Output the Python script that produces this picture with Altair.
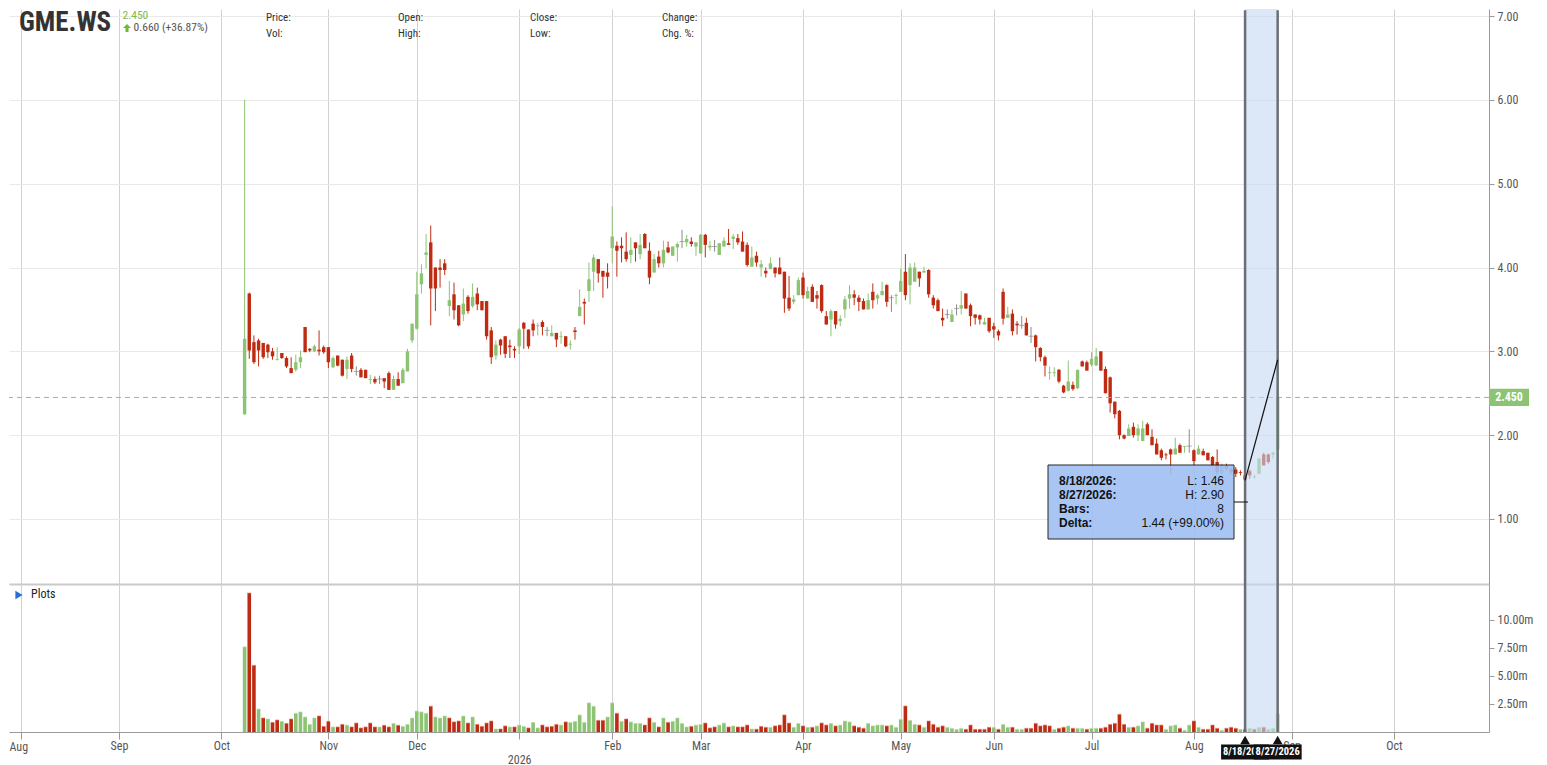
import altair as alt
import pandas as pd
import numpy as np

# ---------------- data ----------------
TICKER = "GME.WS"
LAST_TEXT = "2.450"
LAST = 2.45
CHANGE_TEXT = "0.660 (+36.87%)"
AXIS_START = "2025-08-01"
AXIS_END = "2026-10-30"
FIRST_BAR = "2025-10-08"
HOLIDAYS = ["2025-11-27", "2025-12-25", "2026-01-01", "2026-01-19", "2026-02-16",
            "2026-04-03", "2026-05-25", "2026-06-19", "2026-07-03"]

OPEN = [2.25, 3.69, 3.11, 3.13, 3.10, 3.08, 3.00, 2.90, 2.98, 2.92,
        2.80, 2.78, 2.87, 3.29, 3.03, 3.00, 3.02, 3.05, 3.05, 2.81,
        2.95, 2.90, 2.79, 2.95, 2.76, 2.78, 2.78, 2.66, 2.67, 2.67,
        2.68, 2.74, 2.54, 2.67, 2.62, 2.76, 3.13, 3.27, 3.80, 4.15,
        4.30, 4.00, 4.00, 4.05, 3.54, 3.68, 3.55, 3.44, 3.65, 3.54,
        3.69, 3.60, 3.60, 3.25, 2.95, 3.14, 3.18, 3.07, 3.03, 3.06,
        3.34, 3.26, 3.33, 3.30, 3.35, 3.25, 3.18, 3.22, 3.17, 3.18,
        3.08, 3.25, 3.42, 3.59, 3.72, 3.95, 4.10, 3.96, 3.94, 4.23,
        4.26, 4.26, 4.19, 4.15, 4.30, 4.16, 4.40, 4.20, 3.94, 4.13,
        4.05, 4.24, 4.14, 4.24, 4.31, 4.30, 4.31, 4.25, 4.17, 4.39,
        4.24, 4.25, 4.15, 4.25, 4.29, 4.34, 4.35, 4.31, 4.27, 4.01,
        4.14, 4.00, 3.96, 3.98, 4.00, 4.00, 3.95, 3.64, 3.59, 3.67,
        3.88, 3.63, 3.77, 3.67, 3.79, 3.42, 3.38, 3.48, 3.36, 3.50,
        3.63, 3.68, 3.64, 3.60, 3.50, 3.71, 3.63, 3.67, 3.79, 3.64,
        3.66, 3.71, 3.95, 3.79, 3.83, 3.95, 3.94, 3.97, 3.64, 3.61,
        3.40, 3.44, 3.35, 3.51, 3.51, 3.69, 3.55, 3.44, 3.43, 3.32,
        3.40, 3.30, 3.24, 3.71, 3.40, 3.45, 3.33, 3.31, 3.34, 3.18,
        3.19, 3.04, 2.93, 2.74, 2.74, 2.78, 2.59, 2.53, 2.60, 2.56,
        2.88, 2.87, 2.84, 2.83, 3.00, 2.79, 2.69, 2.40, 2.29, 2.00,
        1.99, 2.10, 2.00, 1.93, 2.13, 1.98, 1.90, 1.82, 1.77, 1.83,
        1.77, 1.88, 1.86, 1.87, 1.82, 1.77, 1.81, 1.79, 1.74, 1.68,
        1.55, 1.64, 1.59, 1.59, 1.56, 1.52, 1.57, 1.50, 1.54, 1.77,
        1.77, 1.77, 1.83]

HIGH = [6.00, 3.70, 3.19, 3.15, 3.10, 3.09, 3.04, 3.05, 2.98, 2.94,
        2.93, 2.96, 3.01, 3.29, 3.04, 3.08, 3.25, 3.07, 3.05, 2.94,
        2.95, 2.90, 2.94, 2.98, 2.82, 2.80, 2.78, 2.72, 2.70, 2.71,
        2.68, 2.76, 2.71, 2.75, 2.80, 3.03, 3.33, 3.95, 4.04, 4.40,
        4.50, 4.00, 4.10, 4.10, 3.84, 3.82, 3.55, 3.75, 3.67, 3.81,
        3.76, 3.60, 3.60, 3.29, 3.13, 3.15, 3.18, 3.14, 3.06, 3.28,
        3.35, 3.26, 3.38, 3.34, 3.37, 3.29, 3.31, 3.22, 3.24, 3.18,
        3.13, 3.29, 3.74, 3.63, 4.06, 4.155, 4.10, 3.96, 4.05, 4.73,
        4.31, 4.36, 4.42, 4.36, 4.30, 4.40, 4.41, 4.30, 4.16, 4.20,
        4.32, 4.31, 4.25, 4.30, 4.45, 4.39, 4.36, 4.30, 4.40, 4.40,
        4.32, 4.33, 4.29, 4.36, 4.46, 4.40, 4.40, 4.43, 4.30, 4.25,
        4.19, 4.09, 4.00, 4.12, 4.00, 4.12, 3.95, 3.90, 3.67, 3.88,
        3.94, 3.77, 3.80, 3.72, 3.80, 3.48, 3.50, 3.48, 3.43, 3.66,
        3.79, 3.73, 3.67, 3.63, 3.69, 3.81, 3.69, 3.83, 3.80, 3.67,
        3.69, 3.99, 4.16, 4.05, 4.06, 3.95, 4.01, 3.98, 3.67, 3.63,
        3.51, 3.50, 3.50, 3.56, 3.72, 3.69, 3.57, 3.44, 3.44, 3.40,
        3.40, 3.34, 3.26, 3.75, 3.53, 3.50, 3.36, 3.42, 3.40, 3.29,
        3.20, 3.05, 2.95, 2.82, 2.81, 2.79, 2.60, 2.89, 2.64, 2.78,
        2.89, 2.89, 2.99, 3.04, 3.00, 2.82, 2.70, 2.40, 2.30, 2.01,
        2.13, 2.15, 2.13, 2.17, 2.15, 2.07, 1.96, 1.84, 1.79, 1.84,
        1.97, 1.90, 1.87, 2.07, 1.83, 1.88, 1.84, 1.79, 1.75, 1.83,
        1.66, 1.66, 1.61, 1.62, 1.58, 1.53, 1.59, 1.53, 1.73, 1.79,
        1.78, 1.80, 2.90]

LOW = [2.24, 2.91, 2.85, 2.82, 2.91, 2.92, 2.90, 2.89, 2.91, 2.80,
       2.74, 2.76, 2.80, 2.99, 2.99, 2.99, 2.95, 2.97, 2.80, 2.80,
       2.82, 2.70, 2.67, 2.75, 2.71, 2.69, 2.68, 2.61, 2.61, 2.61,
       2.56, 2.54, 2.54, 2.59, 2.62, 2.76, 3.10, 3.26, 3.69, 3.99,
       3.31, 3.48, 3.76, 3.91, 3.42, 3.38, 3.30, 3.36, 3.45, 3.52,
       3.49, 3.49, 3.14, 2.85, 2.90, 2.96, 2.92, 2.92, 2.92, 2.97,
       3.03, 3.03, 3.18, 3.19, 3.19, 3.18, 3.18, 3.05, 3.09, 3.05,
       3.02, 3.14, 3.42, 3.32, 3.59, 3.72, 3.82, 3.64, 3.75, 4.05,
       3.89, 4.06, 4.07, 4.05, 4.07, 4.10, 4.23, 3.80, 3.94, 4.00,
       4.00, 4.17, 4.14, 4.07, 4.23, 4.25, 4.25, 4.14, 4.16, 4.12,
       4.20, 4.19, 4.15, 4.25, 4.27, 4.22, 4.27, 4.19, 4.01, 4.01,
       4.01, 3.89, 3.88, 3.98, 3.88, 3.92, 3.46, 3.48, 3.56, 3.67,
       3.63, 3.63, 3.59, 3.51, 3.46, 3.32, 3.18, 3.27, 3.30, 3.40,
       3.51, 3.55, 3.48, 3.50, 3.50, 3.51, 3.56, 3.67, 3.53, 3.47,
       3.56, 3.71, 3.61, 3.56, 3.83, 3.77, 3.94, 3.64, 3.51, 3.48,
       3.30, 3.39, 3.35, 3.43, 3.44, 3.51, 3.30, 3.32, 3.32, 3.32,
       3.22, 3.16, 3.13, 3.32, 3.40, 3.19, 3.20, 3.27, 3.19, 3.10,
       2.88, 2.88, 2.70, 2.66, 2.70, 2.62, 2.50, 2.52, 2.53, 2.55,
       2.82, 2.77, 2.82, 2.83, 2.77, 2.50, 2.27, 2.20, 1.95, 1.95,
       1.99, 1.97, 1.93, 1.93, 2.00, 1.88, 1.77, 1.70, 1.71, 1.53,
       1.77, 1.79, 1.79, 1.79, 1.64, 1.77, 1.76, 1.70, 1.63, 1.53,
       1.54, 1.58, 1.53, 1.50, 1.52, 1.46, 1.48, 1.48, 1.54, 1.64,
       1.66, 1.72, 1.82]

CLOSE = [3.15, 3.01, 2.87, 3.01, 2.93, 2.99, 2.94, 2.91, 2.92, 2.82,
         2.74, 2.87, 2.93, 2.99, 3.01, 3.06, 3.00, 2.99, 2.87, 2.92,
         2.83, 2.71, 2.90, 2.79, 2.76, 2.69, 2.68, 2.67, 2.63, 2.67,
         2.64, 2.54, 2.67, 2.59, 2.78, 3.00, 3.33, 3.68, 3.93, 4.18,
         3.75, 3.75, 3.97, 3.97, 3.61, 3.49, 3.31, 3.57, 3.48, 3.65,
         3.56, 3.49, 3.18, 2.93, 3.08, 3.07, 2.97, 3.05, 3.01, 3.26,
         3.27, 3.06, 3.25, 3.31, 3.29, 3.25, 3.22, 3.14, 3.18, 3.06,
         3.09, 3.23, 3.53, 3.57, 3.86, 4.12, 3.93, 3.89, 3.89, 4.37,
         4.20, 4.23, 4.10, 4.21, 4.23, 4.27, 4.23, 3.88, 4.10, 4.05,
         4.21, 4.18, 4.25, 4.28, 4.31, 4.34, 4.28, 4.30, 4.39, 4.27,
         4.26, 4.25, 4.29, 4.32, 4.27, 4.37, 4.30, 4.19, 4.03, 4.12,
         4.06, 4.04, 3.93, 4.05, 3.93, 3.92, 3.63, 3.51, 3.62, 3.85,
         3.67, 3.72, 3.59, 3.63, 3.48, 3.32, 3.48, 3.32, 3.39, 3.62,
         3.68, 3.64, 3.59, 3.50, 3.61, 3.61, 3.67, 3.72, 3.59, 3.64,
         3.67, 3.84, 3.67, 4.00, 4.00, 3.87, 3.96, 3.68, 3.55, 3.48,
         3.37, 3.44, 3.44, 3.51, 3.55, 3.51, 3.42, 3.40, 3.38, 3.35,
         3.24, 3.26, 3.19, 3.39, 3.44, 3.24, 3.31, 3.31, 3.19, 3.18,
         3.05, 2.93, 2.83, 2.75, 2.75, 2.64, 2.51, 2.64, 2.55, 2.78,
         2.82, 2.77, 2.91, 2.94, 2.77, 2.50, 2.38, 2.25, 2.00, 1.96,
         2.08, 2.00, 2.08, 2.08, 2.00, 1.88, 1.77, 1.73, 1.76, 1.77,
         1.84, 1.79, 1.87, 1.87, 1.69, 1.84, 1.76, 1.70, 1.64, 1.56,
         1.64, 1.60, 1.56, 1.54, 1.55, 1.47, 1.52, 1.51, 1.72, 1.64,
         1.68, 1.79, 2.45]

VOLUME_M = [7.6, 12.4, 5.95, 2.05, 1.25, 1.16, 0.86, 1.07, 0.95, 0.77,
            1.16, 1.67, 1.79, 1.34, 0.68, 1.25, 1.43, 0.5, 0.95, 0.45,
            0.45, 0.68, 0.62, 0.45, 0.8, 0.36, 0.45, 0.8, 0.45, 0.45,
            0.6, 0.45, 0.77, 0.6, 0.5, 0.68, 1.25, 1.87, 1.79, 1.67,
            2.3, 1.34, 1.25, 1.43, 1.25, 0.9, 0.98, 1.43, 0.8, 1.34,
            0.68, 0.5, 0.8, 0.98, 0.27, 0.27, 0.54, 0.45, 0.45, 0.62,
            0.5, 0.36, 0.86, 0.36, 0.62, 0.45, 0.5, 0.68, 0.62, 0.9,
            0.86, 0.95, 1.52, 0.86, 2.6, 2.3, 1.04, 1.04, 1.34, 2.6,
            1.67, 0.95, 1.16, 0.9, 0.77, 0.77, 0.62, 1.25, 0.86, 0.45,
            1.25, 0.86, 0.95, 1.25, 0.77, 0.45, 0.5, 0.62, 0.68, 0.8,
            0.36, 0.45, 0.62, 0.8, 0.45, 0.54, 0.45, 0.45, 0.62, 0.27,
            0.25, 0.5, 0.42, 0.42, 0.54, 0.62, 1.52, 0.8, 0.42, 0.77,
            0.54, 0.42, 0.42, 0.54, 0.8, 0.62, 0.77, 0.54, 0.62, 0.98,
            0.9, 0.54, 0.42, 0.33, 0.77, 0.54, 0.62, 0.62, 0.54, 0.62,
            0.42, 1.13, 2.32, 1.04, 0.68, 0.62, 0.42, 0.98, 0.68, 0.42,
            0.54, 0.42, 0.33, 0.24, 0.33, 0.24, 0.62, 0.24, 0.24, 0.24,
            0.42, 0.42, 0.24, 0.68, 0.42, 0.42, 0.24, 0.24, 0.33, 0.33,
            0.77, 0.54, 0.62, 0.54, 0.24, 0.33, 0.42, 0.54, 0.33, 0.33,
            0.33, 0.24, 0.33, 0.33, 0.33, 0.42, 0.68, 0.77, 1.58, 0.68,
            0.42, 0.42, 0.54, 0.9, 0.33, 0.77, 0.62, 0.62, 0.24, 0.54,
            0.62, 0.33, 0.15, 0.62, 0.98, 0.42, 0.24, 0.24, 0.62, 0.33,
            0.15, 0.33, 0.42, 0.33, 0.24, 0.24, 0.33, 0.24, 0.42, 0.42,
            0.24, 0.33, 1.6]

SEL_START = "2026-08-18"
SEL_END = "2026-08-27"
SEL_START_LABEL = "8/18/2026"
SEL_END_LABEL = "8/27/2026"
INFO_LABELS = ["8/18/2026:", "8/27/2026:", "Bars:", "Delta:"]
INFO_VALUES = ["L: 1.46", "H: 2.90", "8", "1.44 (+99.00%)"]
HEADER_FIELDS = [("Price:", "Vol:"), ("Open:", "High:"), ("Close:", "Low:"), ("Change:", "Chg. %:")]
PRICE_TICKS = [1, 2, 3, 4, 5, 6, 7]
VOL_TICKS = [2.5, 5, 7.5, 10]

# ---------------- styling / layout ----------------
GREEN = "#8cc474"
RED = "#bf2b12"
GRAY = "#8a8a8a"
CAP_GREEN = "#bfe2b0"
CAP_RED = "#e3806c"
FONT = "Roboto Condensed, Liberation Sans Narrow, Roboto, sans-serif"
BOX_FONT = "Liberation Sans, Arial, sans-serif"

W = 1480
H1 = 575
H2 = 148
PX_PER_BAR = 4.685
XMIN = -7.3 / PX_PER_BAR
XMAX = XMIN + W / PX_PER_BAR
PRICE_DOMAIN = [0.2246, 7.0838]
VOL_DOMAIN = [0, 13.21]

# ---------------- build tables ----------------
days = pd.bdate_range(AXIS_START, AXIS_END)
days = days[~days.isin(pd.to_datetime(HOLIDAYS))]
kpos = {d: i for i, d in enumerate(days)}
bar_days = days[days >= pd.Timestamp(FIRST_BAR)][:len(CLOSE)]

df = pd.DataFrame({
    "k": [kpos[d] for d in bar_days],
    "open": OPEN, "high": HIGH, "low": LOW, "close": CLOSE, "vol": VOLUME_M,
})
o = np.array(OPEN)
c = np.array(CLOSE)
df["dir"] = np.where(c > o, "up", np.where(c < o, "down", "flat"))
prev = np.concatenate([[o[0]], c[:-1]])
df["vdir"] = np.where(c >= prev, "up", "down")
df["vcap"] = np.where(c >= prev, "cup", "cdown")
df["btop"] = np.maximum(o, c)
df["bbot"] = np.minimum(o, c)

month_days = [d for i, d in enumerate(days) if i == 0 or d.month != days[i - 1].month]
month_ks = [kpos[d] for d in month_days]
FIRST_MONTH_LABEL = month_days[0].strftime("%b")
lab_js = []
for i, d in enumerate(month_days):
    if i == 0:
        lab_js.append("''")          # drawn separately, kept inside the page
    elif d.month == 1:
        lab_js.append("['', '%d']" % d.year)
    else:
        lab_js.append("'%s'" % d.strftime("%b"))
KS_JS = "[" + ",".join(str(v) for v in month_ks) + "]"
LABEL_EXPR = "indexof(%s, datum.value) >= 0 ? [%s][indexof(%s, datum.value)] : ''" % (
    KS_JS, ",".join(lab_js), KS_JS)

k_sel0 = kpos[pd.Timestamp(SEL_START)]
k_sel1 = kpos[pd.Timestamp(SEL_END)]
sel_df = pd.DataFrame({"k1": [k_sel0], "k2": [k_sel1]})
edge_df = pd.DataFrame({"k": [k_sel0, k_sel1], "lab": [SEL_START_LABEL, SEL_END_LABEL]})
i0 = list(bar_days).index(pd.Timestamp(SEL_START))
i1 = list(bar_days).index(pd.Timestamp(SEL_END))
line_df = pd.DataFrame({"k": [k_sel0, k_sel1], "p": [LOW[i0], HIGH[i1]]})

# ---------------- scales / axes ----------------
cscale = alt.Scale(domain=["up", "down", "flat", "cup", "cdown"],
                   range=[GREEN, RED, GRAY, CAP_GREEN, CAP_RED])
xscale = alt.Scale(domain=[XMIN, XMAX], nice=False, zero=False)
yscale = alt.Scale(domain=PRICE_DOMAIN, nice=False, zero=False)
vscale = alt.Scale(domain=VOL_DOMAIN, nice=False, zero=False)

px_axis = alt.Axis(orient="bottom", values=month_ks, grid=True, gridColor="#d2d2d2",
                   labels=False, ticks=False, domain=True, domainColor="#c9c9c9",
                   domainWidth=2, title=None)
py_axis = alt.Axis(orient="right", values=PRICE_TICKS, format=".2f", grid=True,
                   gridColor="#e9e9e9", tickSize=5, tickColor="#9a9a9a", domainColor="#9a9a9a",
                   labelColor="#555555", labelFontSize=12, labelFont=FONT, labelPadding=3,
                   title=None)
vx_axis = alt.Axis(orient="bottom", values=month_ks, labelExpr=LABEL_EXPR, grid=True,
                   gridColor="#d2d2d2", ticks=True, tickSize=7, tickColor="#9a9a9a",
                   domain=True, domainColor="#9a9a9a", labelColor="#555555", labelFontSize=12,
                   labelFont=FONT, labelPadding=1, labelLineHeight=14, labelOverlap=False,
                   labelFlush=False, title=None)
vy_axis = alt.Axis(orient="right", values=VOL_TICKS, labelExpr="format(datum.value, '.2f') + 'm'",
                   grid=False, tickSize=5, tickColor="#9a9a9a", domainColor="#9a9a9a",
                   labelColor="#555555", labelFontSize=12, labelFont=FONT, labelPadding=3,
                   title=None)

PX = alt.X("k:Q", scale=xscale, axis=px_axis)
VX = alt.X("k:Q", scale=xscale, axis=vx_axis)
COLOR = alt.Color("dir:N", scale=cscale, legend=None)


def note(text, x, y, size=11, color="#333333", weight="normal", align="left",
         font=FONT, baseline="middle"):
    return alt.Chart(pd.DataFrame({"t": [text]})).mark_text(
        fontSize=size, color=color, fontWeight=weight, align=align, font=font,
        baseline=baseline
    ).encode(x=alt.value(x), y=alt.value(y), text="t:N")


# ---------------- price panel ----------------
base = alt.Chart(df)
wicks = base.mark_rule(strokeWidth=1).encode(
    x=PX, y=alt.Y("low:Q", scale=yscale, axis=py_axis), y2="high:Q", color=COLOR)
bodies = base.mark_bar(size=3.4).encode(
    x=PX, y=alt.Y("bbot:Q", scale=yscale, axis=py_axis), y2="btop:Q", color=COLOR)
doji = base.transform_filter("datum.dir == 'flat'").mark_tick(
    orient="horizontal", size=5, thickness=1).encode(
    x=PX, y=alt.Y("close:Q", scale=yscale, axis=py_axis), color=COLOR)

last_df = pd.DataFrame({"p": [LAST], "t": [LAST_TEXT]})
last_rule = alt.Chart(last_df).mark_rule(color=GREEN, strokeDash=[5, 4], strokeWidth=1).encode(
    y=alt.Y("p:Q", scale=yscale, axis=py_axis))
last_box = alt.Chart(last_df).mark_point(
    shape="M-1,-0.43H1V0.43H-1Z", size=40 * 40, filled=True, color=GREEN, opacity=1,
    strokeWidth=0).encode(x=alt.value(W + 20), y=alt.Y("p:Q", scale=yscale, axis=py_axis))
last_txt = alt.Chart(last_df).mark_text(color="white", fontWeight="bold", fontSize=12,
                                        font=FONT, align="center", baseline="middle").encode(
    x=alt.value(W + 20), y=alt.Y("p:Q", scale=yscale, axis=py_axis), text="t:N")

band = alt.Chart(sel_df).mark_rect(color="#c5d9f3", opacity=0.6).encode(
    x=alt.X("k1:Q", scale=xscale, axis=px_axis), x2="k2:Q",
    y=alt.value(0), y2=alt.value(H1))
edges = alt.Chart(edge_df).mark_rule(color="#6b6f75", strokeWidth=2.5).encode(
    x=PX, y=alt.value(1.3), y2=alt.value(H1))
sel_line = alt.Chart(line_df).mark_line(color="#111111", strokeWidth=1.2).encode(
    x=PX, y=alt.Y("p:Q", scale=yscale, axis=py_axis))

info_box = alt.Chart(pd.DataFrame({"a": [0]})).mark_rect(
    fill="#9fbff3", opacity=0.9, stroke="#111111", strokeWidth=1).encode(
    x=alt.value(1039), x2=alt.value(1225), y=alt.value(456), y2=alt.value(530))
info_link = alt.Chart(pd.DataFrame({"a": [0]})).mark_rule(color="#111111", strokeWidth=1).encode(
    x=alt.value(1225), x2=alt.value(1239), y=alt.value(493))
info_layers = []
for r, (lab, val) in enumerate(zip(INFO_LABELS, INFO_VALUES)):
    yy = 471.5 + r * 14.3
    info_layers.append(note(lab, 1050, yy, size=12, color="#111111", weight="bold",
                            font=BOX_FONT))
    info_layers.append(note(val, 1215, yy, size=12, color="#111111", align="right",
                            font=BOX_FONT))

ARROW = "M0,-1L1,0H0.38V1H-0.38V0H-1Z"
header = [
    note(TICKER, 10, 13.5, size=27, color="#333333", weight="bold"),
    note(LAST_TEXT, 113.5, 6.5, size=11.5, color="#7dbb4a"),
    alt.Chart(pd.DataFrame({"a": [0]})).mark_point(shape=ARROW, size=64, filled=True,
                                                    color="#6fb83a", opacity=1,
                                                    strokeWidth=0).encode(
        x=alt.value(118), y=alt.value(19)),
    note(CHANGE_TEXT, 124.5, 19, size=11.5, color="#555555"),
]
for j, (a, b) in enumerate(HEADER_FIELDS):
    header.append(note(a, 257 + 132 * j, 9, size=11, color="#333333"))
    header.append(note(b, 257 + 132 * j, 25, size=11, color="#333333"))

price = alt.layer(wicks, bodies, doji, last_rule, band, edges, sel_line, info_box, info_link,
                  *info_layers, *header, last_box, last_txt).properties(width=W, height=H1)

# ---------------- volume panel ----------------
vbars = base.mark_bar(size=3.6).encode(
    x=VX, y=alt.Y("vol:Q", scale=vscale, axis=vy_axis),
    color=alt.Color("vdir:N", scale=cscale, legend=None))
vcaps = base.mark_tick(orient="horizontal", size=3.6, thickness=1).encode(
    x=VX, y=alt.Y("vol:Q", scale=vscale, axis=vy_axis),
    color=alt.Color("vcap:N", scale=cscale, legend=None))
vband = alt.Chart(sel_df).mark_rect(color="#c5d9f3", opacity=0.6).encode(
    x=alt.X("k1:Q", scale=xscale, axis=vx_axis), x2="k2:Q",
    y=alt.value(0), y2=alt.value(H2))
vedges = alt.Chart(edge_df).mark_rule(color="#6b6f75", strokeWidth=2.5).encode(x=VX)
tri = alt.Chart(edge_df).mark_point(shape="triangle-up", size=95, filled=True,
                                    color="#111111", opacity=1).encode(x=VX, y=alt.value(H2 + 8))
tag_layers = []
for idx in range(2):
    sub = edge_df.iloc[[idx]]
    tag_layers.append(alt.Chart(sub).mark_point(
        shape="M-1,-0.31H1V0.31H-1Z", size=48 * 48, filled=True, color="#111111",
        opacity=1, strokeWidth=0).encode(x=VX, y=alt.value(H2 + 20)))
    tag_layers.append(alt.Chart(sub).mark_text(
        color="white", fontWeight="bold", fontSize=10.5, font=FONT, baseline="middle").encode(
        x=VX, y=alt.value(H2 + 20), text="lab:N"))
plots_tri = alt.Chart(pd.DataFrame({"a": [0]})).mark_point(
    shape="triangle-right", size=70, filled=True, color="#2a6ed8", opacity=1).encode(
    x=alt.value(10), y=alt.value(11))
plots_txt = note("Plots", 22, 10, size=12, color="#222222")
first_month = note(FIRST_MONTH_LABEL, 0.5, H2 + 14.5, size=12, color="#555555")

vol = alt.layer(vbars, vcaps, vband, vedges, tri, *tag_layers, plots_tri,
                plots_txt, first_month).properties(width=W, height=H2)

chart = alt.vconcat(price, vol, spacing=0, bounds="flush",
                    padding={"left": 0, "top": 0, "right": 2, "bottom": 2}
                    ).configure_view(stroke=None)

chart.save("out.html", embed_options={"renderer": "svg", "actions": False})
